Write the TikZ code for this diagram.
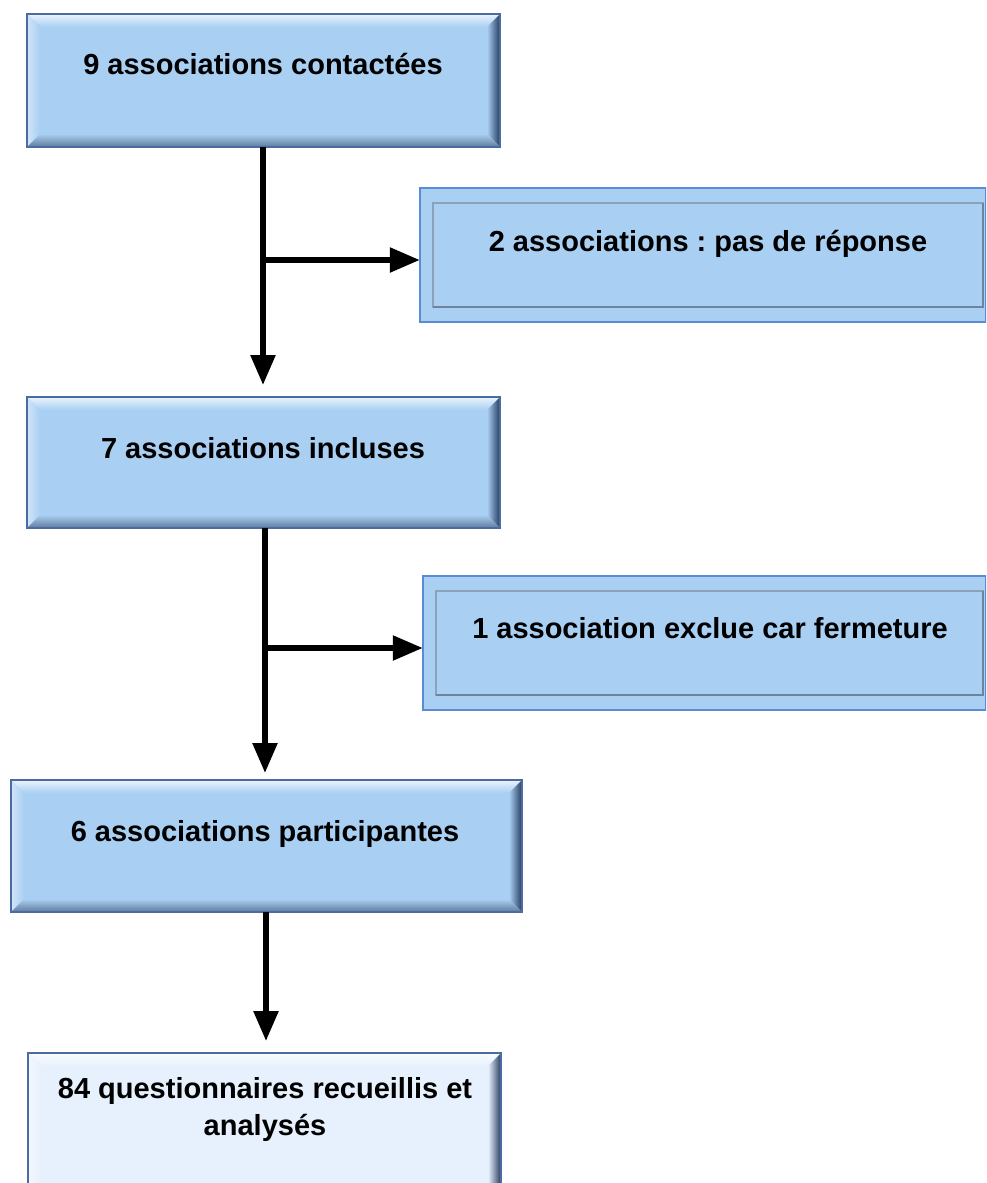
\documentclass[tikz,border=0pt]{standalone}
\usepackage{fontspec}
\setmainfont{Liberation Sans}
\usetikzlibrary{arrows.meta,calc}
\frenchspacing
\definecolor{face}{HTML}{A9CFF3}
\definecolor{facelt}{HTML}{E7F1FD}
\definecolor{bevright}{HTML}{243A5C}
\definecolor{bevbot}{HTML}{5F7A9A}
\definecolor{edgeblue}{HTML}{4A6CA3}
\definecolor{sideedge}{HTML}{5B8BD6}
\definecolor{innergray}{HTML}{8CA2B8}
\definecolor{innerdark}{HTML}{6E849C}
\newcommand\bevbox[6]{% x1,y1,x2,y2,bevel,facecolor
  \fill[#6] (#1,#2) rectangle (#3,#4);
  \shade[top color=white!75!#6, bottom color=#6] (#1,#2) -- (#3,#2) -- (#3-#5,#2+#5) -- (#1+#5,#2+#5) -- cycle;
  \shade[left color=white!45!#6, right color=#6] (#1,#2) -- (#1+#5,#2+#5) -- (#1+#5,#4-#5) -- (#1,#4) -- cycle;
  \shade[left color=#6, right color=bevright] (#3,#2) -- (#3,#4) -- (#3-#5,#4-#5) -- (#3-#5,#2+#5) -- cycle;
  \shade[top color=#6, bottom color=bevbot] (#1,#4) -- (#1+#5,#4-#5) -- (#3-#5,#4-#5) -- (#3,#4) -- cycle;
  \draw[edgeblue, line width=1.5] (#1,#2) rectangle (#3,#4);
}
\newcommand\sidebox[4]{% x1,y1,x2,y2
  \fill[face] (#1,#2) rectangle (#3,#4);
  \draw[sideedge, line width=2.5] (#1,#2) rectangle (#3,#4);
  \draw[innergray, line width=1.5] (#1+13,#2+15) rectangle (#3-3,#4-15);
  \draw[innerdark, line width=2.5] (#1+13,#4-15) -- (#3-3,#4-15) -- (#3-3,#2+15);
}
\tikzset{
  lbl/.style={font=\fontsize{29}{37}\selectfont\bfseries, align=center, inner sep=0, text height=21, text depth=0},
  arr/.style={line width=5.5, -{Triangle[length=30, width=24]}},
  seg/.style={line width=5.5},
}
\begin{document}
\begin{tikzpicture}[x=1pt,y=-1pt]
\clip (0,0) rectangle (986,1183);
\fill[white] (0,0) rectangle (986,1183);
% boxes
\bevbox{27}{14}{500}{147}{13}{face}
\node[inner sep=0, minimum width=473, minimum height=133] (b1) at (263.5,80.5) {};
\node[lbl] (t1) at (263,64) {9 associations contactées};

\sidebox{420}{188}{986}{322}
\node[inner sep=0, minimum width=566, minimum height=134] (b2) at (703,255) {};
\node[lbl] (t2) at (708,241) {2 associations : pas de réponse};

\bevbox{27}{397}{500}{528}{13}{face}
\node[inner sep=0, minimum width=473, minimum height=131] (b3) at (263.5,462.5) {};
\node[lbl] (t3) at (263,448) {7 associations incluses};

\sidebox{423}{576}{986}{710}
\node[inner sep=0, minimum width=563, minimum height=134] (b4) at (704.5,643) {};
\node[lbl] (t4) at (710,628) {1 association exclue car fermeture};

\bevbox{11}{780}{522}{912}{13}{face}
\node[inner sep=0, minimum width=511, minimum height=132] (b5) at (266.5,846) {};
\node[lbl] (t5) at (265,831) {6 associations participantes};

\bevbox{28}{1053}{501}{1200}{13}{facelt}
\node[inner sep=0, minimum width=473, minimum height=147] (b6) at (264.5,1126.5) {};
\node[lbl, text height=, text depth=] (t6) at (265,1109) {84 questionnaires recueillis et\\analysés};

% connectors
\coordinate (j1) at (263,260);
\coordinate (e1) at (263,385);
\draw[seg] (263,147) coordinate (s1) -- (j1);
\draw[arr] (s1) -- (e1);
\draw[arr] (j1) -- (b2.west |- j1);

\coordinate (s2) at (265,528);
\coordinate (j2) at (265,648);
\coordinate (e2) at (265,773);
\draw[arr] (s2) -- (e2);
\draw[arr] (j2) -- (b4.west |- j2);

\coordinate (s3) at (266,912);
\coordinate (e3) at (266,1041);
\draw[arr] (s3) -- (e3);
\end{tikzpicture}
\end{document}
